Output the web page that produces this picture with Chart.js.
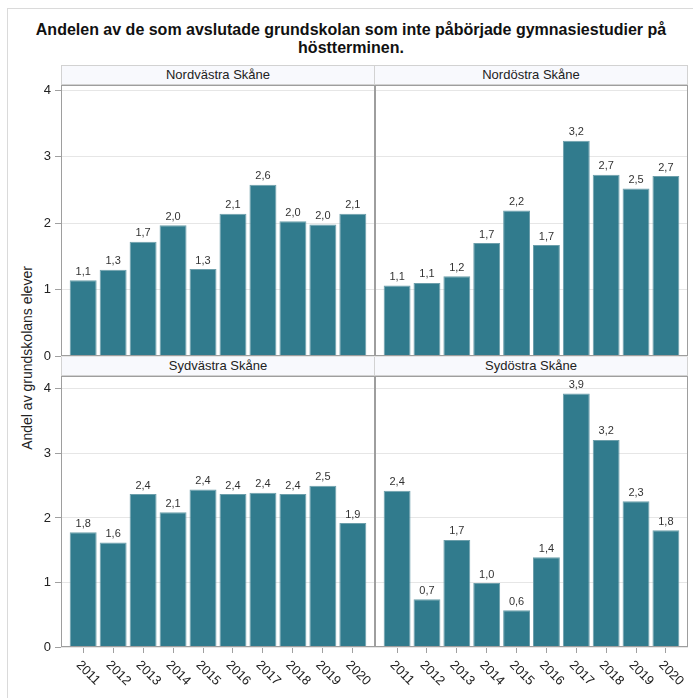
<!DOCTYPE html>
<html lang="sv">
<head>
<meta charset="utf-8">
<script src="https://cdn.jsdelivr.net/npm/chart.js@4.4.0/dist/chart.umd.min.js"></script>
<style>
  html, body { margin: 0; padding: 0; background: #fff; }
  body { width: 693px; height: 698px; position: relative; overflow: hidden; font-family: 'Liberation Sans', Arial, sans-serif; color: #222; }
  canvas { position: absolute; left: 0; top: 0; }
  .frame { position: absolute; left: 7px; top: 8px; width: 700px; height: 700px; border-left: 1px solid #dadada; border-top: 1px solid #dadada; }
  .title { position: absolute; left: 0; width: 702px; top: 21px; text-align: center; font-weight: bold; font-size: 16px; line-height: 18px; color: #111; }
  .strip { position: absolute; height: 18px; line-height: 18px; background: #f8f9fd; border: 1px solid #d2d2d2; box-sizing: content-box; text-align: center; font-size: 13px; color: #222; }
  .ytitle { position: absolute; left: 27px; top: 358px; transform: translate(-50%, -50%) rotate(-90deg); white-space: nowrap; font-size: 14px; color: #222; }
</style>
</head>
<body>
<div class="frame"></div>
<div class="title">Andelen av de som avslutade grundskolan som inte påbörjade gymnasiestudier på<br>höstterminen.</div>
<div class="strip" style="left:61px; top:65px; width:312px;">Nordvästra Skåne</div>
<div class="strip" style="left:374px; top:65px; width:312px;">Nordöstra Skåne</div>
<div class="strip" style="left:61px; top:356px; width:312px;">Sydvästra Skåne</div>
<div class="strip" style="left:374px; top:356px; width:312px;">Sydöstra Skåne</div>
<div class="ytitle">Andel av grundskolans elever</div>

<canvas id="nv" width="693" height="698"></canvas>
<canvas id="no" width="693" height="698"></canvas>
<canvas id="sv" width="693" height="698"></canvas>
<canvas id="so" width="693" height="698"></canvas>

<script>
/* ── Data ────────────────────────────────────────────────── */
const years = [2011, 2012, 2013, 2014, 2015, 2016, 2017, 2018, 2019, 2020];
const yTicks = [0, 1, 2, 3, 4];
const nordvastra = [1.14, 1.30, 1.72, 1.97, 1.31, 2.14, 2.58, 2.03, 1.98, 2.14];
const nordostra  = [1.06, 1.10, 1.20, 1.70, 2.19, 1.67, 3.24, 2.73, 2.52, 2.71];
const sydvastra  = [1.78, 1.62, 2.37, 2.09, 2.44, 2.37, 2.39, 2.37, 2.50, 1.92];
const sydostra   = [2.42, 0.74, 1.66, 0.99, 0.57, 1.39, 3.93, 3.21, 2.26, 1.81];

const BAR = '#317b8d';
const FONT = "'Liberation Sans', Arial, sans-serif";
const W = 693, H = 698;

/* ── Plugins ─────────────────────────────────────────────── */
const framePlugin = {
  id: 'frame',
  afterDatasetsDraw(chart) {
    const { ctx, chartArea: a } = chart;
    ctx.save();
    ctx.strokeStyle = '#9e9e9e';
    ctx.lineWidth = 1;
    ctx.strokeRect(a.left + 0.5, a.top + 0.5, a.right - a.left - 1, a.bottom - a.top - 1);
    ctx.restore();
  }
};

const valueLabels = {
  id: 'valueLabels',
  afterDatasetsDraw(chart) {
    const { ctx } = chart;
    const meta = chart.getDatasetMeta(0);
    const data = chart.data.datasets[0].data;
    ctx.save();
    ctx.font = '11px ' + FONT;
    ctx.fillStyle = '#333';
    ctx.textAlign = 'center';
    ctx.textBaseline = 'bottom';
    meta.data.forEach((bar, i) => {
      const txt = data[i].y.toFixed(1).replace('.', ',');
      ctx.fillText(txt, bar.x, bar.y - 3);
    });
    ctx.restore();
  }
};

const yearLabels = {
  id: 'yearLabels',
  afterDraw(chart) {
    if (!chart.options.plugins.yearLabels.show) return;
    const { ctx } = chart;
    const x = chart.scales.x;
    ctx.save();
    ctx.font = '13px ' + FONT;
    ctx.fillStyle = '#222';
    ctx.textAlign = 'left';
    ctx.textBaseline = 'middle';
    years.forEach(y => {
      const px = x.getPixelForValue(y);
      ctx.save();
      ctx.translate(px - 5, x.top + 16);
      ctx.rotate(Math.PI / 4);
      ctx.fillText(String(y), 0, 0);
      ctx.restore();
    });
    ctx.restore();
  }
};

/* ── Panel builder ───────────────────────────────────────── */
function makePanel(id, values, area, yMax, showY, showX) {
  const yWidth = showY ? 27 : 0;
  const xHeight = showX ? 50 : 0;
  new Chart(document.getElementById(id), {
    type: 'bar',
    data: {
      datasets: [{
        data: years.map((y, i) => ({ x: y, y: values[i] })),
        backgroundColor: BAR,
        borderColor: '#6d9fab',
        borderWidth: { top: 1, left: 1, right: 1, bottom: 0 },
        barPercentage: 0.9,
        categoryPercentage: 1.0,
      }]
    },
    options: {
      responsive: false,
      animation: false,
      events: [],
      layout: {
        padding: {
          left: area.left - yWidth,
          right: W - area.right,
          top: area.top,
          bottom: H - area.bottom - xHeight
        }
      },
      plugins: {
        legend: { display: false },
        tooltip: { enabled: false },
        yearLabels: { show: showX }
      },
      scales: {
        x: {
          type: 'linear',
          display: showX,
          min: 2010.26,
          max: 2020.74,
          offset: false,
          afterBuildTicks: s => { s.ticks = years.map(v => ({ value: v })); },
          afterFit: s => { s.height = xHeight; },
          ticks: { display: false },
          border: { display: false },
          grid: { offset: false, drawOnChartArea: false, drawTicks: true, tickLength: 6, tickColor: '#a0a0a0' }
        },
        y: {
          min: 0,
          max: yMax,
          afterBuildTicks: s => { s.ticks = yTicks.map(v => ({ value: v })); },
          afterFit: s => { s.width = yWidth; },
          ticks: {
            display: showY,
            padding: 4,
            color: '#222',
            font: { family: FONT, size: 13 }
          },
          border: { display: false },
          grid: { color: '#e6e6e6', drawTicks: showY, tickLength: 6, tickColor: '#a0a0a0' }
        }
      }
    },
    plugins: [framePlugin, valueLabels, yearLabels]
  });
}

makePanel('nv', nordvastra, { left: 61, right: 375, top: 85, bottom: 356 }, 4.08, true, false);
makePanel('no', nordostra,  { left: 375, right: 688, top: 85, bottom: 356 }, 4.08, false, false);
makePanel('sv', sydvastra,  { left: 61, right: 375, top: 376, bottom: 647 }, 4.2, true, true);
makePanel('so', sydostra,   { left: 375, right: 688, top: 376, bottom: 647 }, 4.2, false, true);
</script>
</body>
</html>
